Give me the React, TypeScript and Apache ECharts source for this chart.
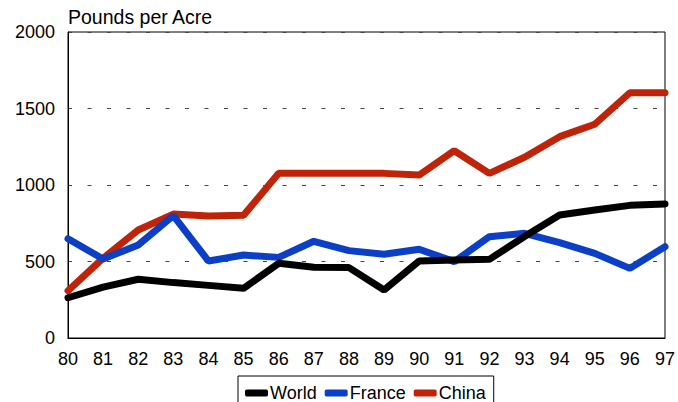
import React, { useEffect, useRef } from "react";
import * as echarts from "echarts";

const years = ["80","81","82","83","84","85","86","87","88","89","90","91","92","93","94","95","96","97"];
const world = [263, 332, 384, 362, 344, 325, 488, 462, 460, 314, 503, 510, 514, 663, 804, 837, 867, 876];
const france = [649, 516, 608, 800, 503, 542, 527, 632, 571, 547, 580, 499, 662, 684, 623, 553, 455, 597];
const china = [309, 522, 706, 810, 797, 802, 1076, 1076, 1076, 1076, 1065, 1224, 1076, 1181, 1316, 1397, 1603, 1603];
const yTicks = { min: 0, max: 2000, interval: 500 };

const FONT = "'Liberation Sans', Arial, sans-serif";
const BLACK = "#000000";
const BLUE = "#0a3fc6";
const RED = "#c02408";

export default function App() {
  const ref = useRef<HTMLDivElement>(null);
  useEffect(() => {
    if (!ref.current) return;
    const chart = echarts.init(ref.current, undefined, { renderer: "svg" });
    const mk = (name: string, data: number[], color: string, z: number) => ({
      name,
      type: "line",
      data,
      showSymbol: false,
      symbol: "none",
      z,
      lineStyle: { color, width: 7, cap: "round" },
      itemStyle: { color },
    });
    chart.setOption({
      animation: false,
      textStyle: { fontFamily: FONT },
      grid: { left: 68, right: 11, top: 32, bottom: 64, show: true, borderColor: "#000", borderWidth: 1, backgroundColor: "transparent" },
      title: {
        text: "Pounds per Acre",
        left: 63,
        top: 2,
        textStyle: { fontSize: 19.5, fontWeight: "normal", color: "#000", fontFamily: FONT },
      },
      legend: {
        data: ["World", "France", "China"],
        left: 238,
        top: 376,
        orient: "horizontal",
        borderColor: "#000",
        borderWidth: 1,
        padding: [8, 8, 8, 7],
        itemGap: 8,
        itemWidth: 23,
        itemHeight: 7,
        icon: "roundRect",
        textStyle: { fontSize: 18, color: "#000", fontFamily: FONT, padding: [0, 0, 0, -3] },
      },
      xAxis: {
        type: "category",
        data: years,
        boundaryGap: false,
        axisLine: { lineStyle: { color: "#000", width: 1 } },
        axisTick: { show: false },
        axisLabel: { fontSize: 18, color: "#000", margin: 12, fontFamily: FONT },
        splitLine: { show: false },
      },
      yAxis: {
        type: "value",
        min: yTicks.min,
        max: yTicks.max,
        interval: yTicks.interval,
        axisLine: { show: true, lineStyle: { color: "#000", width: 1 } },
        axisTick: { show: false },
        axisLabel: { fontSize: 18, color: "#000", margin: 13, fontFamily: FONT, formatter: (v: number) => String(v) },
        splitLine: { show: true, lineStyle: { color: "#444", type: [4, 15.5], width: 1 } },
      },
      series: [
        mk("China", china, RED, 2),
        mk("France", france, BLUE, 3),
        mk("World", world, BLACK, 4),
      ],
    });
    return () => chart.dispose();
  }, []);
  return (
    <div
      ref={ref}
      style={{ position: "fixed", left: 0, top: 0, width: 678, height: 402, background: "#fff" }}
    />
  );
}
